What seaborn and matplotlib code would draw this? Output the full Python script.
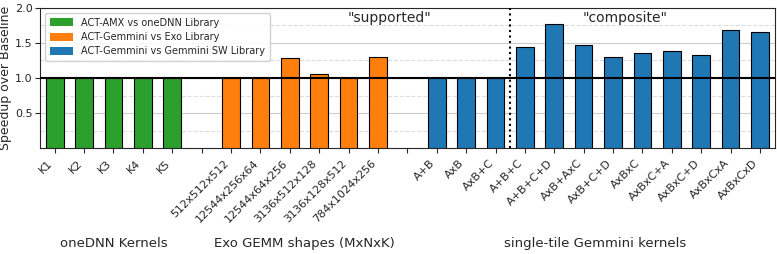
import matplotlib
matplotlib.use("Agg")
import matplotlib.pyplot as plt
import seaborn as sns
import pandas as pd
from matplotlib.ticker import MultipleLocator

onednn_kernels = ["K1", "K2", "K3", "K4", "K5"]
onednn_vals = [1.0, 1.0, 1.0, 1.0, 1.0]
exo_shapes = ["512x512x512", "12544x256x64", "12544x64x256", "3136x512x128", "3136x128x512", "784x1024x256"]
exo_vals = [1.0, 1.0, 1.29, 1.06, 1.0, 1.30]
gem_kernels = ["A+B", "AxB", "AxB+C", "A+B+C", "A+B+C+D", "AxB+AxC", "AxB+C+D", "AxBxC",
               "AxBxC+A", "AxBxC+D", "AxBxCxA", "AxBxCxD"]
gem_vals = [1.0, 1.0, 1.0, 1.44, 1.77, 1.47, 1.30, 1.35, 1.38, 1.33, 1.69, 1.66]
series_names = ["ACT-AMX vs oneDNN Library", "ACT-Gemmini vs Exo Library", "ACT-Gemmini vs Gemmini SW Library"]
colors = ["#2ca02c", "#ff7f0e", "#1f77b4"]
group_titles = ["oneDNN Kernels", "Exo GEMM shapes (MxNxK)", "single-tile Gemmini kernels"]

spacer1, spacer2 = " ", "  "
order = onednn_kernels + [spacer1] + exo_shapes + [spacer2] + gem_kernels

df = pd.DataFrame({
    "kernel": onednn_kernels + exo_shapes + gem_kernels,
    "speedup": onednn_vals + exo_vals + gem_vals,
    "series": [series_names[0]] * len(onednn_kernels) + [series_names[1]] * len(exo_shapes)
              + [series_names[2]] * len(gem_kernels),
})

sns.set_style("ticks")
plt.rcParams['font.family'] = ['DejaVu Sans']
fig = plt.figure(figsize=(7.77, 2.54), dpi=100)
ax = fig.add_axes([0.0515, 0.417, 0.9455, 0.552])

sns.barplot(data=df, x="kernel", y="speedup", hue="series", order=order,
            hue_order=series_names, palette=colors, dodge=False, width=0.6,
            saturation=1, edgecolor="black", linewidth=0.8, ax=ax, zorder=3)

ax.set_xlim(-0.5, len(order) - 0.5)
ax.set_ylim(0, 2.0)
ax.yaxis.set_major_locator(MultipleLocator(0.5))
ax.yaxis.set_minor_locator(MultipleLocator(0.25))
ax.set_yticks([0.5, 1.0, 1.5, 2.0])
ax.grid(axis="y", which="major", color="#cccccc", linewidth=0.8, zorder=0)
ax.grid(axis="y", which="minor", color="#dddddd", linestyle="--", linewidth=0.8, zorder=0)
ax.tick_params(axis="y", which="minor", length=0)
ax.axhline(1.0, color="black", linewidth=1.5, zorder=4)
ax.axvline(15.5, color="black", linestyle=":", linewidth=1.5, zorder=4)

ax.set_xlabel("")
ax.set_ylabel("Speedup over Baseline", fontsize=9, labelpad=2)
ax.tick_params(axis="y", labelsize=8, pad=2)
ax.set_xticks(range(len(order)))
ax.set_xticklabels(order, rotation=45, ha="right", fontsize=8)
for s in ax.spines.values():
    s.set_linewidth(0.8)

ax.text(11.4, 1.85, '"supported"', ha="center", va="center", fontsize=10, zorder=5)
ax.text(19.4, 1.85, '"composite"', ha="center", va="center", fontsize=10, zorder=5)

group_x = [2.0, 8.5, 18.4]
for gx, title in zip(group_x, group_titles):
    ax.text(gx, -0.68, title, transform=ax.get_xaxis_transform(),
            ha="center", va="center", fontsize=9.5)

leg = ax.legend(loc="upper left", fontsize=7, frameon=True, framealpha=0.9,
                handlelength=2.4, handleheight=0.9, borderpad=0.5, labelspacing=0.45)
for h in leg.legend_handles:
    h.set_edgecolor("none")

fig.savefig("out.png", dpi=100)
